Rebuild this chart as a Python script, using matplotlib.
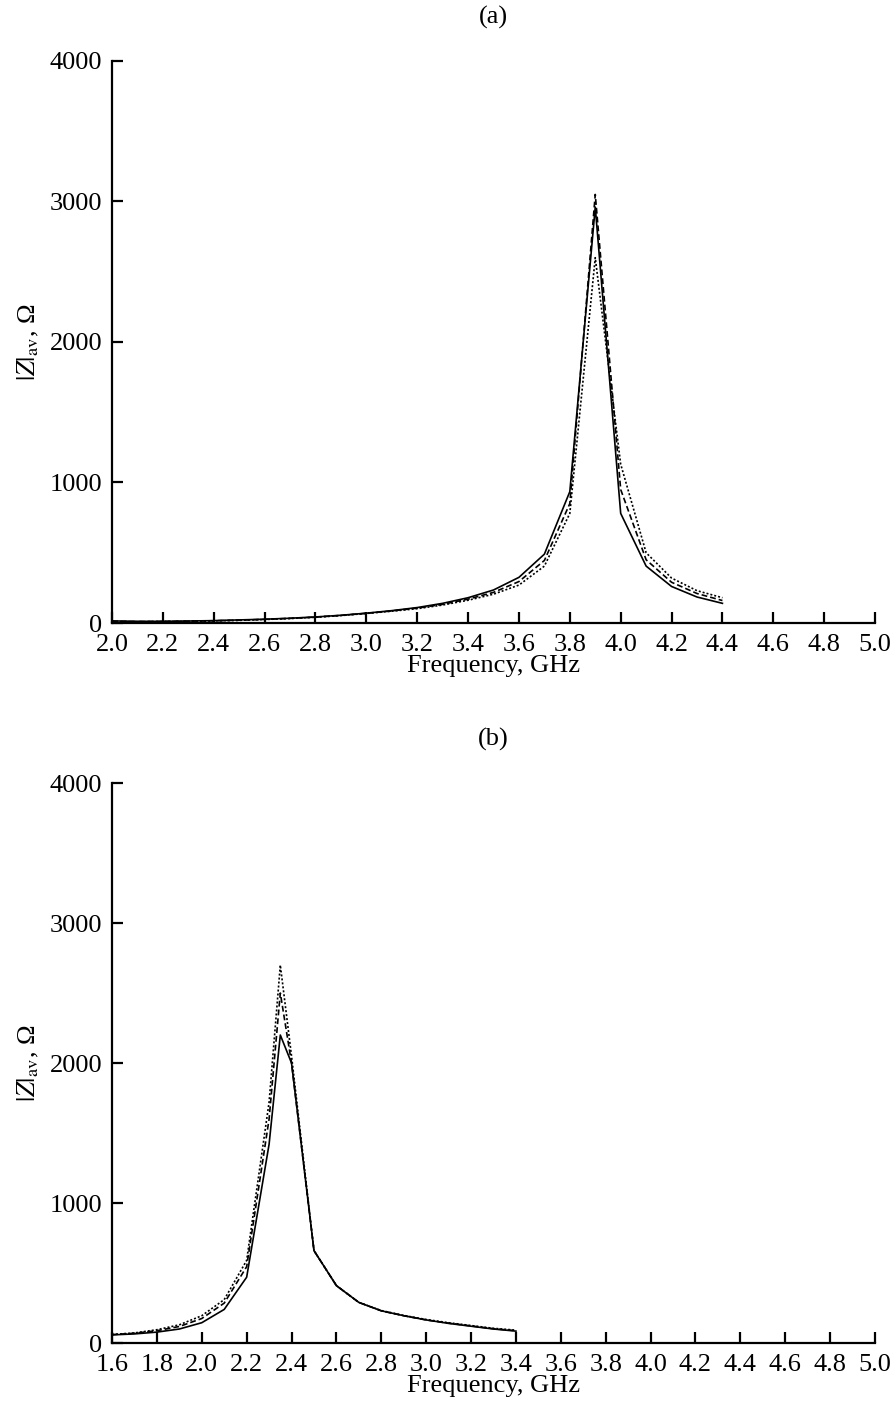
import matplotlib.pyplot as plt

plt.rcParams['font.family'] = ['Liberation Serif', 'DejaVu Serif']
plt.rcParams['mathtext.fontset'] = 'stix'

# panel (a)
freq_a = [2.0, 2.1, 2.2, 2.3, 2.4, 2.5, 2.6, 2.7, 2.8, 2.9, 3.0, 3.1, 3.2,
          3.3, 3.4, 3.5, 3.6, 3.7, 3.8, 3.9, 4.0, 4.1, 4.2, 4.3, 4.4]
z_a_solid = [15, 12, 12, 14, 17, 22, 27, 34, 43, 55, 70, 88, 110,
             140, 180, 235, 325, 490, 935, 2960, 780, 405, 260, 185, 140]
z_a_dashed = [12, 10, 11, 13, 16, 20, 26, 33, 42, 54, 69, 86, 106,
              133, 170, 218, 295, 445, 850, 3050, 950, 450, 290, 210, 160]
z_a_dotted = [10, 9, 10, 12, 15, 19, 25, 32, 41, 53, 68, 84, 102,
              128, 162, 205, 270, 405, 780, 2600, 1130, 500, 320, 230, 180]

# panel (b)
freq_b = [1.6, 1.7, 1.8, 1.9, 2.0, 2.1, 2.2, 2.3, 2.35, 2.4, 2.5, 2.6,
          2.7, 2.8, 2.9, 3.0, 3.1, 3.2, 3.3, 3.4]
z_b_solid = [58, 65, 78, 100, 145, 240, 470, 1420, 2200, 2000, 660, 410,
             290, 230, 195, 165, 140, 120, 100, 85]
z_b_dashed = [60, 70, 88, 118, 175, 285, 545, 1600, 2500, 2000, 660, 410,
              290, 230, 195, 165, 142, 122, 102, 88]
z_b_dotted = [61, 72, 95, 130, 195, 310, 590, 1720, 2700, 2050, 660, 410,
              290, 232, 197, 168, 145, 125, 105, 92]

fig = plt.figure(figsize=(8.96, 14.14), dpi=100)
ax_a = fig.add_axes([0.125, 0.5594, 0.8516, 0.3975])
ax_b = fig.add_axes([0.125, 0.0502, 0.8516, 0.3960])


def style(ax, xmin, title):
    ax.set_xlim(xmin, 5.0)
    ax.set_ylim(0, 4000)
    ticks = [round(xmin + 0.2 * i, 1) for i in range(int(round((5.0 - xmin) / 0.2)) + 1)]
    ax.set_xticks(ticks)
    ax.set_xticklabels(['%.1f' % t for t in ticks])
    ax.set_yticks([0, 1000, 2000, 3000, 4000])
    ax.spines['top'].set_visible(False)
    ax.spines['right'].set_visible(False)
    ax.spines['left'].set_linewidth(1.6)
    ax.spines['bottom'].set_linewidth(1.6)
    ax.tick_params(direction='in', length=8, width=1.6, labelsize=19)
    ax.tick_params(axis='x', pad=8)
    ax.tick_params(axis='y', pad=7)
    ax.set_xlabel('Frequency, GHz', fontsize=19, labelpad=-1)
    ax.set_ylabel(r'$|Z|_{\rm av}$, Ω', fontsize=19, labelpad=6)
    ax.set_title(title, fontsize=19, pad=27)


ax_a.plot(freq_a, z_a_solid, color='black', lw=1.2, ls='-')
ax_a.plot(freq_a, z_a_dashed, color='black', lw=1.2, ls=(0, (3.5, 1.8)))
ax_a.plot(freq_a, z_a_dotted, color='black', lw=1.2, ls=(0, (1.2, 1.2)))
style(ax_a, 2.0, '(a)')

ax_b.plot(freq_b, z_b_solid, color='black', lw=1.2, ls='-')
ax_b.plot(freq_b, z_b_dashed, color='black', lw=1.2, ls=(0, (3.5, 1.8)))
ax_b.plot(freq_b, z_b_dotted, color='black', lw=1.2, ls=(0, (1.2, 1.2)))
style(ax_b, 1.6, '(b)')

fig.savefig('out.png', dpi=100)
